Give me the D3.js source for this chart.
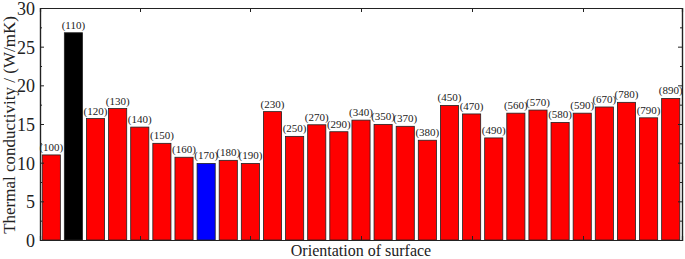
<!DOCTYPE html>
<html>
<head>
<meta charset="utf-8">
<script src="https://cdn.jsdelivr.net/npm/d3@7"></script>
<style>
  body { margin: 0; background: #fff; }
</style>
</head>
<body>
<div id="chart"></div>
<script>
// Surface orientations (Miller indices) and values
const planes = ["100","110","120","130","140","150","160","170","180","190",
  "230","250","270","290","340","350","370","380","450","470","490",
  "560","570","580","590","670","780","790","890"];
const conductivity = [11.0,26.8,15.7,17.0,14.6,12.5,10.7,9.9,10.3,9.9,
  16.6,13.4,14.9,14.0,15.5,14.95,14.7,12.9,17.4,16.3,13.2,
  16.4,16.8,15.2,16.4,17.2,17.8,15.8,18.3];
const yTicks = [0, 5, 10, 15, 20, 25, 30];
const specialColors = { "110": "#000000", "170": "#0000ff" };

const W = 685, H = 259;
const margin = { top: 8, right: 3, bottom: 19, left: 40 };
const width = W - margin.left - margin.right;
const height = H - margin.top - margin.bottom;
const serif = "'Liberation Serif', 'Times New Roman', Times, serif";

const svg = d3.select("#chart").append("svg")
    .attr("width", W).attr("height", H);
const g = svg.append("g")
    .attr("transform", `translate(${margin.left},${margin.top})`);

const x = d3.scaleBand().domain(planes).range([0, width])
    .paddingInner(0.18).paddingOuter(0.1);
const y = d3.scaleLinear().domain([0, 30]).range([height, 0]);

// Bars
g.selectAll("rect.bar")
    .data(planes)
    .enter().append("rect")
    .attr("class", "bar")
    .attr("x", d => x(d))
    .attr("y", (d, i) => y(conductivity[i]))
    .attr("width", x.bandwidth())
    .attr("height", (d, i) => height - y(conductivity[i]))
    .attr("fill", d => specialColors[d] || "#ff0000")
    .attr("stroke", "#222")
    .attr("stroke-width", 0.8);

// Labels above bars
g.selectAll("text.lbl")
    .data(planes)
    .enter().append("text")
    .attr("class", "lbl")
    .attr("x", d => x(d) + x.bandwidth() / 2)
    .attr("y", (d, i) => y(conductivity[i]) - 4)
    .attr("text-anchor", "middle")
    .style("font-size", "11px")
    .text(d => `(${d})`);

// Left axis (ticks inward)
const left = g.append("g")
    .call(d3.axisLeft(y).tickValues(yTicks).tickSize(-4).tickPadding(5));
left.selectAll("text").style("font-size", "18px").attr("dy", "0.36em");
g.append("g")
    .call(d3.axisLeft(y).tickValues(d3.range(2.5, 30, 5)).tickSize(-2).tickFormat(""));

// Right axis (ticks inward)
g.append("g").attr("transform", `translate(${width},0)`)
    .call(d3.axisRight(y).tickValues(yTicks).tickSize(-4).tickFormat(""));
g.append("g").attr("transform", `translate(${width},0)`)
    .call(d3.axisRight(y).tickValues(d3.range(2.5, 30, 5)).tickSize(-2).tickFormat(""));

// Top and bottom frame with small unlabelled ticks
const xl = d3.scaleLinear().domain([0, 1]).range([0, width]);
const xt = [100, 210, 321, 432, 543].map(v => v / width);
g.append("g").attr("transform", `translate(0,${height})`)
    .call(d3.axisBottom(xl).tickValues(xt).tickSize(-4).tickFormat(""));
g.append("g")
    .call(d3.axisTop(xl).tickValues(xt).tickSize(-4).tickFormat(""));

g.selectAll(".domain").attr("stroke", "#222").attr("stroke-width", 1.2);
g.selectAll(".tick line").attr("stroke", "#222");

// Axis titles
svg.append("text")
    .attr("transform", `translate(15,${margin.top + height / 2 + 1}) rotate(-90)`)
    .attr("text-anchor", "middle")
    .style("font-size", "17px")
    .text("Thermal conductivity / (W/mK)");

svg.append("text")
    .attr("x", margin.left + width / 2)
    .attr("y", 256)
    .attr("text-anchor", "middle")
    .style("font-size", "16px")
    .text("Orientation of surface");

svg.selectAll("text").style("font-family", serif).attr("fill", "#222");
</script>
</body>
</html>
